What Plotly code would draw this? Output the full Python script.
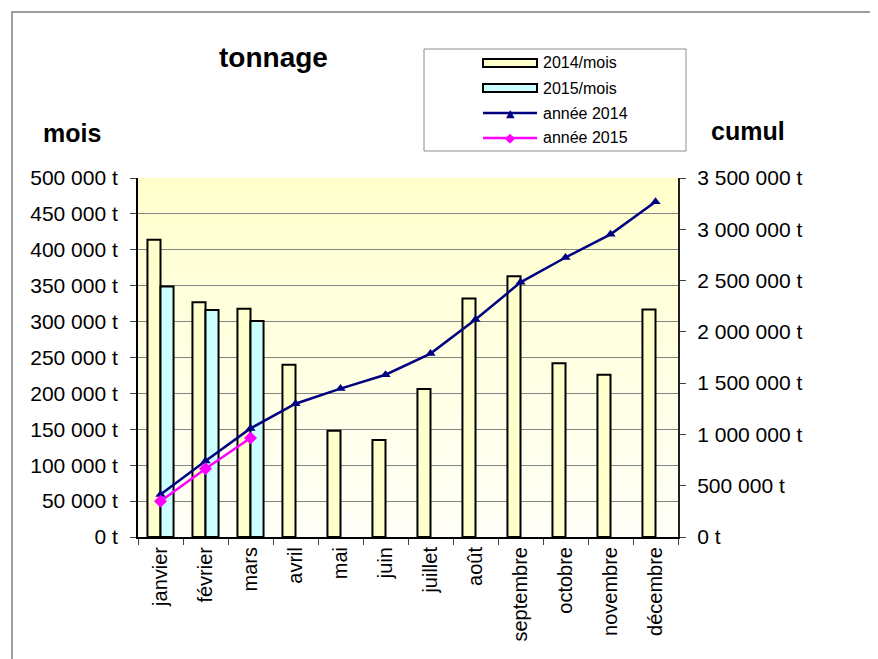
import base64
import plotly.graph_objects as go

# ---------------- data ----------------
mois = ["janvier", "février", "mars", "avril", "mai", "juin", "juillet",
        "août", "septembre", "octobre", "novembre", "décembre"]
mois_2014 = [414000, 327000, 318000, 240000, 148000, 135000, 206000,
             332000, 363000, 242000, 226000, 317000]
mois_2015 = [349000, 316000, 301000]
cumul_2014 = [414000, 741000, 1059000, 1299000, 1447000, 1582000, 1788000,
              2120000, 2483000, 2725000, 2951000, 3268000]
cumul_2015 = [349000, 665000, 966000]
noms = ["2014/mois", "2015/mois", "année 2014", "année 2015"]

# ---------------- geometry helpers (screen pixels -> paper) ----------------
OFF = 8                      # page body margin
W, H = 878 - OFF, 659 - OFF
L, R, T, B = 138, 678, 178, 537   # plot area in screen pixels


def px(x):
    return (x - L) / (R - L)


def py(y):
    return (B - y) / (B - T)


FONT = "Liberation Sans, Arial, sans-serif"
C2014, C2015 = "#FFFFCC", "#CCFFFF"
NAVY, MAGENTA = "#000080", "#FF00FF"

fig = go.Figure()
fig.add_trace(go.Bar(x=mois, y=mois_2014, name=noms[0], showlegend=False,
                     marker=dict(color=C2014, line=dict(color="black", width=2))))
fig.add_trace(go.Bar(x=mois[:len(mois_2015)], y=mois_2015, name=noms[1], showlegend=False,
                     marker=dict(color=C2015, line=dict(color="black", width=2))))
fig.add_trace(go.Scatter(x=mois, y=cumul_2014, name=noms[2], yaxis="y2", showlegend=False,
                         mode="lines+markers", line=dict(color=NAVY, width=2.5),
                         marker=dict(symbol="triangle-up", size=9, color=NAVY)))
fig.add_trace(go.Scatter(x=mois[:len(cumul_2015)], y=cumul_2015, name=noms[3], yaxis="y2",
                         showlegend=False, mode="lines+markers",
                         line=dict(color=MAGENTA, width=2.5),
                         marker=dict(symbol="diamond", size=10, color=MAGENTA)))

# gradient background of plot area
svg = ('<svg xmlns="http://www.w3.org/2000/svg" width="10" height="100" viewBox="0 0 10 100" '
       'preserveAspectRatio="none"><defs><linearGradient id="g" x1="0" y1="0" x2="0" y2="1">'
       '<stop offset="0" stop-color="#FFFFCC"/><stop offset="1" stop-color="#FFFFF8"/>'
       '</linearGradient></defs><rect width="10" height="100" fill="url(#g)"/></svg>')
src = "data:image/svg+xml;base64," + base64.b64encode(svg.encode()).decode()

shapes = []
annotations = []
# outer chart border (extends beyond the picture on right and bottom)
shapes.append(dict(type="rect", xref="paper", yref="paper",
                   x0=px(12), x1=px(900), y0=py(690), y1=py(12),
                   line=dict(color="#7F7F7F", width=1.5), fillcolor="rgba(0,0,0,0)"))

# manual legend
shapes.append(dict(type="rect", xref="paper", yref="paper",
                   x0=px(424), x1=px(686), y0=py(151), y1=py(49),
                   line=dict(color="#8C8C8C", width=1), fillcolor="white"))
rows = [63, 88, 113, 138]
sx0, sx1, tx = 483, 537, 541
for i, fill in enumerate([C2014, C2015]):
    shapes.append(dict(type="rect", xref="paper", yref="paper",
                       x0=px(sx0), x1=px(sx1), y0=py(rows[i] + 4), y1=py(rows[i] - 4),
                       line=dict(color="black", width=2), fillcolor=fill))
for i, (col, sym, sz) in enumerate([(NAVY, "▲", 11), (MAGENTA, "◆", 13)]):
    r = rows[2 + i]
    shapes.append(dict(type="line", xref="paper", yref="paper",
                       x0=px(sx0), x1=px(sx1), y0=py(r), y1=py(r),
                       line=dict(color=col, width=2.5)))
    annotations.append(dict(x=px((sx0 + sx1) / 2), y=py(r), xref="paper", yref="paper",
                            text=sym, showarrow=False, xanchor="center", yanchor="middle",
                            font=dict(family="DejaVu Sans", size=sz, color=col)))
for i, nm in enumerate(noms):
    annotations.append(dict(x=px(tx), y=py(rows[i]), xref="paper", yref="paper", text=nm,
                            showarrow=False, xanchor="left", yanchor="middle",
                            font=dict(family=FONT, size=16, color="black")))

# titles
annotations.append(dict(x=px(273), y=py(58), xref="paper", yref="paper", text="<b>tonnage</b>",
                        showarrow=False, xanchor="center", yanchor="middle",
                        font=dict(family=FONT, size=28, color="black")))
annotations.append(dict(x=px(41), y=py(133), xref="paper", yref="paper", text="<b>mois</b>",
                        showarrow=False, xanchor="left", yanchor="middle",
                        font=dict(family=FONT, size=25, color="black")))
annotations.append(dict(x=px(709), y=py(131), xref="paper", yref="paper", text="<b>cumul</b>",
                        showarrow=False, xanchor="left", yanchor="middle",
                        font=dict(family=FONT, size=25, color="black")))

fig.update_layout(
    width=W, height=H, autosize=False,
    margin=dict(l=L - OFF, r=W + OFF - R, t=T - OFF, b=H + OFF - B, pad=0),
    paper_bgcolor="white", plot_bgcolor="#FFFFE6",
    separators=", ",
    barmode="group", bargap=0.42, bargroupgap=0,
    font=dict(family=FONT, size=21, color="black"),
    showlegend=False,
    images=[dict(source=src, xref="paper", yref="paper", x=0, y=1, sizex=1, sizey=1,
                 xanchor="left", yanchor="top", sizing="stretch", layer="below")],
    shapes=shapes, annotations=annotations,
    xaxis=dict(type="category", categoryorder="array", categoryarray=mois,
               range=[-0.5, len(mois) - 0.5],
               tickangle=-90, ticks="outside", tickson="boundaries", ticklen=6,
               tickcolor="#404040", showline=True, linecolor="black", linewidth=2,
               showgrid=False, tickfont=dict(size=20), zeroline=False),
    yaxis=dict(range=[0, 500000], dtick=50000, tickformat=",d", ticksuffix=" t",
               ticks="outside", ticklen=6, tickcolor="#404040", showline=True,
               linecolor="black", linewidth=2, showgrid=True, gridcolor="#858585",
               gridwidth=1, zeroline=False, tickfont=dict(size=21), ticklabelstandoff=8),
    yaxis2=dict(range=[0, 3500000], dtick=500000, tickformat=",d", ticksuffix=" t",
                overlaying="y", side="right", ticks="outside", ticklen=6,
                tickcolor="#404040", showline=True, linecolor="#202020", linewidth=2,
                showgrid=False, zeroline=False, tickfont=dict(size=21), ticklabelstandoff=7),
)

fig.write_html("out.html")
